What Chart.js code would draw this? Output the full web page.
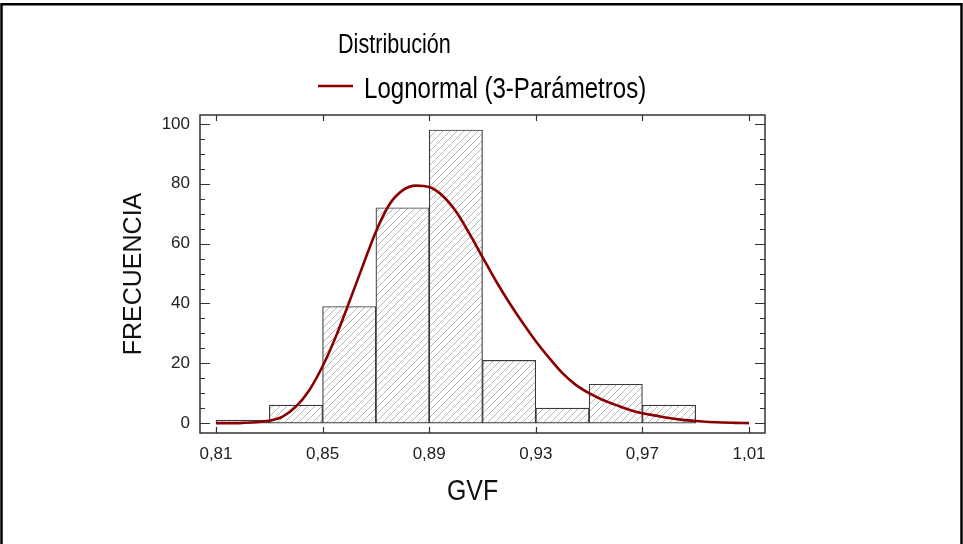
<!DOCTYPE html>
<html>
<head>
<meta charset="utf-8">
<script src="https://cdn.jsdelivr.net/npm/chart.js@4/dist/chart.umd.min.js"></script>
<style>
  html, body { margin: 0; padding: 0; background: #fff; }
  canvas { display: block; }
</style>
</head>
<body>
<canvas id="histograma" width="963" height="544"></canvas>
<script>
// histograma de GVF (clases de 0,02)
const binCenters = [0.82, 0.84, 0.86, 0.88, 0.90, 0.92, 0.94, 0.96, 0.98];
const frequencies = [1, 6, 39, 72, 98, 21, 5, 13, 6];

// curva ajustada, lognormal de 3 parametros
const curveX = [0.81, 0.815, 0.82, 0.825, 0.83, 0.835, 0.84, 0.845, 0.85, 0.855,
  0.86, 0.865, 0.87, 0.875, 0.88, 0.885, 0.89, 0.895, 0.90, 0.905,
  0.91, 0.915, 0.92, 0.925, 0.93, 0.935, 0.94, 0.945, 0.95, 0.955,
  0.96, 0.965, 0.97, 0.975, 0.98, 0.985, 0.99, 0.995, 1.00, 1.005, 1.01];
const curveY = [0, 0, 0.1, 0.3, 0.8, 2.2, 5.5, 11, 19, 29,
  40.5, 52.4, 64, 73, 77.8, 79.4, 78.9, 76, 70.8, 63.5,
  55.5, 47.6, 40.3, 33.6, 27.4, 21.8, 16.7, 12.8, 10, 7.8,
  6.1, 4.5, 3.3, 2.5, 1.7, 1.1, 0.7, 0.4, 0.2, 0.1, 0];

const xTickValues = [0.81, 0.85, 0.89, 0.93, 0.97, 1.01];
const yTickValues = [0, 20, 40, 60, 80, 100];
const yMinorStep = 5;

const titleText = "Distribución";
const curveLabel = "Lognormal (3-Parámetros)";
const xTitle = "GVF";
const curveColor = "#8b0000";
const sans = "'Liberation Sans', Arial, sans-serif";

// rayado diagonal para las barras
function hatch() {
  const s = 7;
  const c = document.createElement("canvas");
  c.width = s; c.height = s;
  const g = c.getContext("2d");
  g.fillStyle = "#fff";
  g.fillRect(0, 0, s, s);
  g.strokeStyle = "#b8b8b8";
  g.lineWidth = 1;
  g.beginPath();
  g.moveTo(0, s); g.lineTo(s, 0);
  g.moveTo(-1, 1); g.lineTo(1, -1);
  g.moveTo(s - 1, s + 1); g.lineTo(s + 1, s - 1);
  g.stroke();
  return g.createPattern(c, "repeat");
}

// texto estrecho: se comprime en horizontal
function narrowText(ctx, text, x, y, size, sx) {
  ctx.save();
  ctx.translate(x, y);
  ctx.scale(sx || 0.83, 1);
  ctx.font = size + "px " + sans;
  ctx.fillText(text, 0, 0);
  ctx.restore();
}

const marcos = {
  id: "marcos",
  afterDraw(chart) {
    const ctx = chart.ctx;
    const a = chart.chartArea;
    const xs = chart.scales.x, ys = chart.scales.y;
    ctx.save();

    // caja del grafico
    ctx.strokeStyle = "#333";
    ctx.lineWidth = 1.5;
    ctx.strokeRect(a.left, a.top, a.right - a.left, a.bottom - a.top);

    // marcas hacia dentro
    ctx.lineWidth = 1.2;
    ctx.beginPath();
    for (let v = 0; v <= 100; v += yMinorStep) {
      const py = Math.round(ys.getPixelForValue(v)) + 0.5;
      const len = yTickValues.includes(v) ? 10 : 5;
      ctx.moveTo(a.left, py); ctx.lineTo(a.left + len, py);
      ctx.moveTo(a.right, py); ctx.lineTo(a.right - len, py);
    }
    xTickValues.forEach(v => {
      const px = Math.round(xs.getPixelForValue(v)) + 0.5;
      ctx.moveTo(px, a.top); ctx.lineTo(px, a.top + 6);
      ctx.moveTo(px, a.bottom); ctx.lineTo(px, a.bottom - 6);
    });
    ctx.stroke();

    // titulo, leyenda y titulo del eje x
    ctx.fillStyle = "#000";
    ctx.textBaseline = "alphabetic";
    ctx.textAlign = "left";
    narrowText(ctx, titleText, 338, 53, 27, 0.8);
    ctx.strokeStyle = curveColor;
    ctx.lineWidth = 2.5;
    ctx.beginPath();
    ctx.moveTo(318, 86); ctx.lineTo(353, 86);
    ctx.stroke();
    narrowText(ctx, curveLabel, 364, 98, 29);
    ctx.fillStyle = "#111";
    narrowText(ctx, xTitle, 447, 500, 30);

    // marco exterior
    ctx.strokeStyle = "#000";
    ctx.lineWidth = 2.5;
    ctx.beginPath();
    ctx.moveTo(1.5, 544); ctx.lineTo(1.5, 4.2); ctx.lineTo(961.5, 4.2); ctx.lineTo(961.5, 544);
    ctx.stroke();
    ctx.restore();
  }
};

new Chart(document.getElementById("histograma"), {
  data: {
    datasets: [
      {
        type: "line",
        label: curveLabel,
        data: curveX.map((x, i) => ({ x: x, y: curveY[i] })),
        borderColor: curveColor,
        borderWidth: 2.6,
        pointRadius: 0,
        fill: false,
        cubicInterpolationMode: "monotone",
        order: 0
      },
      {
        type: "bar",
        label: xTitle,
        data: binCenters.map((x, i) => ({ x: x, y: frequencies[i] })),
        backgroundColor: hatch(),
        borderColor: "#3a3a3a",
        borderWidth: 1.2,
        borderSkipped: false,
        barPercentage: 1,
        categoryPercentage: 1,
        order: 1
      }
    ]
  },
  options: {
    responsive: false,
    animation: false,
    devicePixelRatio: 1,
    layout: { padding: { top: 115, right: 198, bottom: 0, left: 0 } },
    plugins: { legend: { display: false }, tooltip: { enabled: false } },
    scales: {
      x: {
        type: "linear",
        offset: false,
        min: 0.804,
        max: 1.016,
        afterBuildTicks: s => { s.ticks = xTickValues.map(v => ({ value: v })); },
        afterFit: s => { s.height = 111; },
        grid: { display: false, drawTicks: false },
        border: { display: false },
        ticks: {
          autoSkip: false,
          maxRotation: 0,
          padding: 11,
          color: "#222",
          font: { family: sans, size: 17 },
          callback: v => v.toFixed(2).replace(".", ",")
        }
      },
      y: {
        min: -3.3,
        max: 103,
        afterBuildTicks: s => { s.ticks = yTickValues.map(v => ({ value: v })); },
        afterFit: s => { s.width = 200; },
        grid: { display: false, drawTicks: false },
        border: { display: false },
        ticks: {
          padding: 10,
          color: "#222",
          font: { family: sans, size: 17 }
        },
        title: {
          display: true,
          text: "FRECUENCIA",
          color: "#111",
          font: { family: sans, size: 25 },
          padding: { top: 119, bottom: 0 }
        }
      }
    }
  },
  plugins: [marcos]
});
</script>
</body>
</html>
